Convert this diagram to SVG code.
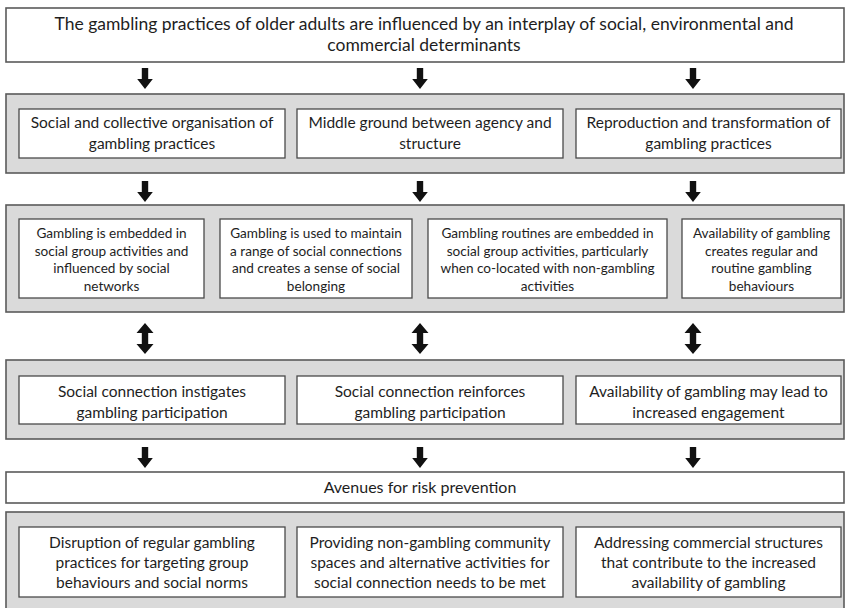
<svg xmlns="http://www.w3.org/2000/svg" width="847" height="608" viewBox="0 0 847 608">
<defs>
<style>
.panel{fill:#dadada;stroke:#5a5a5a;stroke-width:1.6}
.outer{fill:#fff;stroke:#5a5a5a;stroke-width:1.6}
.box{fill:#fff;stroke:#4a4a4a;stroke-width:1.3}
text{font-family:Lato,"Open Sans","Liberation Sans",sans-serif;fill:#1e1e1e;text-anchor:middle}
.t0{font-size:17.5px}
.t1{font-size:16px}
.t2{font-size:15.5px}
.t3{font-size:13.6px}
.arr{fill:#111}
</style>
<path id="down" d="M-3.2,0 H3.2 V11 H7.8 L0,21 L-7.8,11 H-3.2 Z"/>
<path id="dbl" d="M0,0 L8.5,10 H3.2 V21 H8.5 L0,31 L-8.5,21 H-3.2 V10 H-8.5 Z"/>
</defs>
<rect width="847" height="608" fill="#fff"/>

<g id="title">
<rect class="outer" x="6" y="8" width="838" height="54"/>
<text class="t0" x="424" y="30">The gambling practices of older adults are influenced by an interplay of social, environmental and</text>
<text class="t0" x="424" y="51">commercial determinants</text>
</g>

<g id="panel1">
<rect class="panel" x="6" y="94" width="838" height="79"/>
<g id="p1a"><rect class="box" x="19" y="109" width="266" height="49"/>
<text class="t2" x="152" y="128">Social and collective organisation of</text>
<text class="t2" x="152" y="149">gambling practices</text></g>
<g id="p1b"><rect class="box" x="297" y="109" width="266" height="49"/>
<text class="t2" x="430" y="128">Middle ground between agency and</text>
<text class="t2" x="430" y="149">structure</text></g>
<g id="p1c"><rect class="box" x="576" y="109" width="265" height="49"/>
<text class="t2" x="708.5" y="128">Reproduction and transformation of</text>
<text class="t2" x="708.5" y="149">gambling practices</text></g>
</g>

<g id="panel2">
<rect class="panel" x="6" y="205" width="838" height="107"/>
<g id="p2a"><rect class="box" x="19" y="219" width="185" height="79"/>
<text class="t3" x="111.5" y="238">Gambling is embedded in</text>
<text class="t3" x="111.5" y="255.5">social group activities and</text>
<text class="t3" x="111.5" y="273">influenced by social</text>
<text class="t3" x="111.5" y="290.5">networks</text></g>
<g id="p2b"><rect class="box" x="220" y="219" width="192" height="79"/>
<text class="t3" x="316" y="238">Gambling is used to maintain</text>
<text class="t3" x="316" y="255.5">a range of social connections</text>
<text class="t3" x="316" y="273">and creates a sense of social</text>
<text class="t3" x="316" y="290.5">belonging</text></g>
<g id="p2c"><rect class="box" x="428" y="219" width="239" height="79"/>
<text class="t3" x="547.5" y="238">Gambling routines are embedded in</text>
<text class="t3" x="547.5" y="255.5">social group activities, particularly</text>
<text class="t3" x="547.5" y="273">when co-located with non-gambling</text>
<text class="t3" x="547.5" y="290.5">activities</text></g>
<g id="p2d"><rect class="box" x="682" y="219" width="159" height="79"/>
<text class="t3" x="761.5" y="238">Availability of gambling</text>
<text class="t3" x="761.5" y="255.5">creates regular and</text>
<text class="t3" x="761.5" y="273">routine gambling</text>
<text class="t3" x="761.5" y="290.5">behaviours</text></g>
</g>

<g id="panel3">
<rect class="panel" x="6" y="360" width="838" height="79"/>
<g id="p3a"><rect class="box" x="19" y="376" width="266" height="48"/>
<text class="t2" x="152" y="397">Social connection instigates</text>
<text class="t2" x="152" y="418">gambling participation</text></g>
<g id="p3b"><rect class="box" x="297" y="376" width="266" height="48"/>
<text class="t2" x="430" y="397">Social connection reinforces</text>
<text class="t2" x="430" y="418">gambling participation</text></g>
<g id="p3c"><rect class="box" x="576" y="376" width="265" height="48"/>
<text class="t2" x="708.5" y="397">Availability of gambling may lead to</text>
<text class="t2" x="708.5" y="418">increased engagement</text></g>
</g>

<g id="avenues">
<rect class="outer" x="6" y="472" width="838" height="31"/>
<text class="t1" x="420" y="493">Avenues for risk prevention</text>
</g>

<g id="panel4">
<rect class="panel" x="6" y="512" width="838" height="100"/>
<g id="p4a"><rect class="box" x="19" y="527" width="266" height="70"/>
<text class="t2" x="152" y="548">Disruption of regular gambling</text>
<text class="t2" x="152" y="568">practices for targeting group</text>
<text class="t2" x="152" y="588">behaviours and social norms</text></g>
<g id="p4b"><rect class="box" x="297" y="527" width="266" height="70"/>
<text class="t2" x="430" y="548">Providing non-gambling community</text>
<text class="t2" x="430" y="568">spaces and alternative activities for</text>
<text class="t2" x="430" y="588">social connection needs to be met</text></g>
<g id="p4c"><rect class="box" x="576" y="527" width="265" height="70"/>
<text class="t2" x="708.5" y="548">Addressing commercial structures</text>
<text class="t2" x="708.5" y="568">that contribute to the increased</text>
<text class="t2" x="708.5" y="588">availability of gambling</text></g>
</g>

<g id="connectors" class="arr">
<use href="#down" x="145" y="68"/>
<use href="#down" x="420" y="68"/>
<use href="#down" x="693" y="68"/>
<use href="#down" x="145" y="181"/>
<use href="#down" x="420" y="181"/>
<use href="#down" x="693" y="181"/>
<use href="#dbl" x="145" y="323"/>
<use href="#dbl" x="420" y="323"/>
<use href="#dbl" x="693" y="323"/>
<use href="#down" x="145" y="447"/>
<use href="#down" x="420" y="447"/>
<use href="#down" x="693" y="447"/>
</g>
</svg>
